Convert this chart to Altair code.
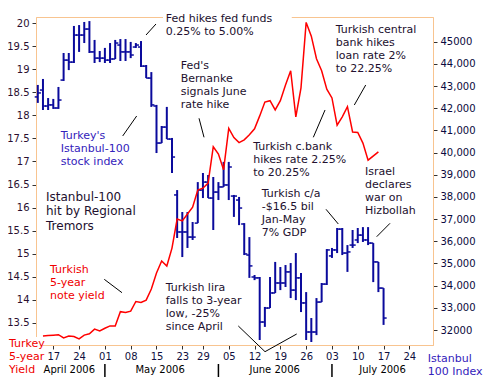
import altair as alt
import pandas as pd

FONT = "DejaVu Sans"
PEACH = "#f8c490"
NAVY = "#0a0a9c"
DARK = "#22102e"

# ---------------- data ----------------
# trading-day index (0 = 17 Apr 2006)
days = list(range(-3, 65))
ise_open = [42510, 42820, 42100, 42150, 42010, 43270, 44170, 44080, 45300, 45300,
            45570, 44540, 44260, 44260, 44170, 44220, 44850, 44540, 44540, 44760,
            44760, 43900, 43360, 42100, 40430, 41150, 40610, 38090, 36420, 36420,
            36190, 36820, 38310, 38670, 37950, 38220, 38450, 38540, 38040, 37860,
            36780, 35380, 34390, 34350, 32360, 32990, 33670, 34120, 34120, 34620,
            33800, 34350, 33220, 31910, 31910, 33260, 34070, 35340, 35610, 36550,
            35470, 35830, 36060, 36280, 36060, 35920, 35070, 33890]
ise_high = [43050, 43320, 42460, 42420, 42960, 44490, 44490, 45710, 45750, 45890,
            45930, 45080, 44580, 44720, 44940, 45080, 45120, 45120, 44990, 44940,
            45030, 43950, 43630, 42150, 41200, 42060, 40660, 38310, 37320, 37320,
            36870, 38670, 39080, 38990, 38900, 38670, 39580, 39580, 38090, 38000,
            36820, 36190, 34480, 34390, 33040, 34390, 35070, 34840, 34930, 35020,
            35470, 34570, 33710, 32540, 33440, 34120, 35650, 35700, 36600, 36600,
            35830, 36510, 36600, 36640, 36640, 35920, 35070, 33890]
ise_low = [42240, 41920, 41920, 41970, 41970, 43230, 43720, 44040, 44540, 44940,
           44490, 44040, 44080, 44040, 44040, 44220, 44130, 44130, 44260, 44720,
           43860, 43360, 42060, 39980, 40430, 40610, 39080, 36150, 35290, 35700,
           36060, 36820, 37950, 37950, 36510, 37860, 38450, 37860, 37100, 36730,
           35380, 34350, 34250, 31550, 32140, 32990, 33670, 33800, 33940, 33440,
           33350, 32810, 31550, 31460, 31770, 33260, 34030, 35250, 35470, 35380,
           34620, 35700, 35920, 35970, 35830, 34160, 33710, 32230]
ise_close = [42690, 42100, 42150, 42010, 42370, 44170, 44080, 45300, 45300, 45570,
             44540, 44260, 44260, 44170, 44220, 44940, 44540, 44540, 44400, 44850,
             43900, 43360, 42150, 40430, 41150, 40610, 39800, 36420, 36420, 36190,
             36190, 38310, 38670, 37950, 38220, 38450, 38540, 39350, 38040, 37500,
             35430, 34890, 34350, 32360, 32990, 33670, 34120, 34120, 34620, 33800,
             34350, 33220, 31910, 31910, 33260, 34070, 35610, 35610, 36550, 35470,
             35520, 35830, 36280, 36060, 35920, 35070, 33890, 32540]

yield_days = list(range(-2, 62)) + [63]
yield_vals = [13.21, 13.22, 13.23, 13.24, 13.17, 13.21, 13.20, 13.15, 13.23, 13.26,
              13.36, 13.32, 13.38, 13.43, 13.43, 13.74, 13.72, 13.75, 13.96, 13.94,
              13.99, 14.23, 14.58, 14.84, 14.73, 15.12, 15.75, 15.71, 15.86, 16.01,
              16.38, 16.42, 16.53, 17.32, 17.16, 16.82, 17.72, 17.52, 17.41, 17.47,
              17.58, 17.71, 17.99, 18.29, 18.32, 18.12, 18.32, 18.66, 18.97, 17.97,
              18.60, 20.02, 19.72, 19.23, 18.97, 18.57, 18.38, 17.79, 17.97, 18.19,
              17.64, 17.63, 17.40, 17.03, 17.21]

tick_days = [0, 5, 10, 15, 20, 25, 29, 34, 39, 44, 49, 54, 59, 64, 69]
tick_labels = ["17", "24", "01", "08", "15", "23", "29", "05", "12", "19", "26",
               "03", "10", "17", "24"]
month_names = ["April 2006", "May 2006", "June 2006", "July 2006"]
month_days = [3.1, 20.7, 42.9, 63.8]
month_breaks = [10, 32, 54]

left_ticks = [13.5, 14, 14.5, 15, 15.5, 16, 16.5, 17, 17.5, 18, 18.5, 19, 19.5, 20]
right_ticks = list(range(32000, 46000, 1000))

ann_lines = [
    ["Fed hikes fed funds", "0.25% to 5.00%"],
    ["Fed's", "Bernanke", "signals June", "rate hike"],
    ["Turkey's", "Istanbul-100", "stock index"],
    ["Istanbul-100", "hit by Regional", "Tremors"],
    ["Turkish", "5-year", "note yield"],
    ["Turkish lira", "falls to 3-year", "low, -25%", "since April"],
    ["Turkish c.bank", "hikes rate 2.25%", "to 20.25%"],
    ["Turkish central", "bank hikes", "loan rate 2%", "to 22.25%"],
    ["Turkish c/a", "-$16.5 bil", "Jan-May", "7% GDP"],
    ["Israel", "declares", "war on", "Hizbollah"],
    ["Turkey", "5-year", "Yield"],
    ["Istanbul", "100 Index"],
]
ann_day = [21.78, 24.69, 1.43, -1.41, -0.64, 21.78, 38.76, 54.73, 40.39, 60.41, -8.59, 72.56]
ann_val = [20.083, 19.073, 17.554, 16.223, 14.655, 14.247, 17.321, 19.855, 16.294, 16.765,
           13.031, 12.712]
ann_color = [DARK, DARK, "#3322bb", DARK, "#f00000", DARK, DARK, DARK, DARK, DARK,
             "#f00000", "#3322bb"]
ann_size = [11, 11, 11, 12, 11, 11, 11, 11, 11, 11, 11, 11]
ann_lead = [13, 13, 13, 14.2, 13, 12.8, 13, 13, 13, 12.8, 13, 12.7]

lead_d1 = [19.90, 28.24, 13.45, 9.88, 35.85, 41.03, 52.66, 60.54, 52.85, 65.25]
lead_v1 = [19.985, 17.938, 17.554, 14.442, 13.429, 12.871, 18.118, 18.661, 15.962, 15.658]
lead_d2 = [17.97, 29.21, 16.16, 13.31, 41.03, 47.17, 50.39, 58.33, 55.23, 62.67]
lead_v2 = [19.746, 17.525, 17.988, 14.152, 12.871, 13.255, 17.525, 18.226, 15.643, 15.367]

# white label boxes (under "Fed hikes" and "Turkey 5-year Yield")
box_d1 = [21.26, -8.78]
box_d2 = [46.21, -2.05]
box_v1 = [20.246, 13.190]
box_v2 = [19.638, 12.256]

# ---------------- layout ----------------
W, H = 397, 328
X_DOM = [-3.35, 73.58]
YL_DOM = [13.016, 20.137]
YR_DOM = [31324, 46114]
px_val = (YL_DOM[1] - YL_DOM[0]) / H

xs = alt.Scale(domain=X_DOM, nice=False, zero=False)


def yl():
    return alt.Scale(domain=YL_DOM, nice=False, zero=False)


def yr():
    return alt.Scale(domain=YR_DOM, nice=False, zero=False)


bars = pd.DataFrame({"d": days, "o": ise_open, "h": ise_high, "l": ise_low, "c": ise_close})
yld = pd.DataFrame({"d": yield_days, "v": yield_vals})

rows = []
for lines, d, v, col, fs, lead in zip(ann_lines, ann_day, ann_val, ann_color, ann_size, ann_lead):
    for k, t in enumerate(lines):
        rows.append({"t": t, "d": d, "v": v - k * lead * px_val, "col": col, "fs": fs})
ann = pd.DataFrame(rows)

leads = pd.DataFrame({"d1": lead_d1, "v1": lead_v1, "d2": lead_d2, "v2": lead_v2})
boxes = pd.DataFrame({"d1": box_d1, "d2": box_d2, "v1": box_v1, "v2": box_v2})

month_v = YL_DOM[0] - 25 * px_val
sep_v1 = YL_DOM[0] - 19 * px_val
sep_v2 = YL_DOM[0] - 32 * px_val
months = pd.DataFrame({"d": month_days, "t": month_names, "v": [month_v] * 4})
seps = pd.DataFrame({"d": month_breaks, "v1": [sep_v1] * 3, "v2": [sep_v2] * 3})

lab_expr = ""
for t, s in zip(tick_days, tick_labels):
    lab_expr += "datum.value == %s ? '%s' : " % (t, s)
lab_expr += "''"

x_axis = alt.Axis(values=tick_days, labelExpr=lab_expr, tickSize=4, tickColor="#333333",
                  labelColor="#101040", labelFontSize=10, labelPadding=2, domainColor=PEACH,
                  grid=False, title=None, labelFlush=False, labelOverlap=False)
left_axis = alt.Axis(values=left_ticks, orient="left", tickSize=4, tickColor="#333333",
                     labelColor="#2a0f30", labelFontSize=10, labelPadding=3, domainColor=PEACH,
                     grid=False, title=None, labelOverlap=False, labelFlush=False,
                     format=".1~f")
right_axis = alt.Axis(values=right_ticks, orient="right", tickSize=4, tickColor="#333333",
                      labelColor="#0a0a40", labelFontSize=10, labelPadding=3, domainColor=PEACH,
                      grid=False, title=None, labelOverlap=False, labelFlush=False,
                      labelExpr="(datum.value == 45000 || datum.value == 32000) ? format(datum.value, 'd') : format(datum.value, ',')")


def X(field):
    return alt.X(field, scale=xs, axis=x_axis)


# ---------------- index (OHLC) ----------------
hl = alt.Chart(bars).mark_rule(color=NAVY, strokeWidth=2).encode(
    x=X("d:Q"),
    y=alt.Y("l:Q", scale=yr(), axis=right_axis),
    y2="h:Q")
op = alt.Chart(bars).transform_calculate(xo="datum.d - 0.6").mark_rule(
    color=NAVY, strokeWidth=1.5).encode(
    x=X("xo:Q"), x2="d:Q",
    y=alt.Y("o:Q", scale=yr(), axis=None))
cl = alt.Chart(bars).transform_calculate(xc="datum.d + 0.6").mark_rule(
    color=NAVY, strokeWidth=1.5).encode(
    x=X("d:Q"), x2="xc:Q",
    y=alt.Y("c:Q", scale=yr(), axis=None))

# ---------------- yield + annotations ----------------
box = alt.Chart(boxes).mark_rect(fill="white").encode(
    x=X("d1:Q"), x2="d2:Q",
    y=alt.Y("v1:Q", scale=yl(), axis=None), y2="v2:Q")
line = alt.Chart(yld).mark_line(color="#ff0000", strokeWidth=1.5).encode(
    x=X("d:Q"),
    y=alt.Y("v:Q", scale=yl(), axis=left_axis))
lead = alt.Chart(leads).mark_rule(color="black", strokeWidth=1).encode(
    x=X("d1:Q"), x2="d2:Q",
    y=alt.Y("v1:Q", scale=yl(), axis=None), y2="v2:Q")
txt = alt.Chart(ann).mark_text(font=FONT, align="left", baseline="middle").encode(
    x=X("d:Q"),
    y=alt.Y("v:Q", scale=yl(), axis=None),
    text="t:N",
    color=alt.Color("col:N", scale=None),
    size=alt.Size("fs:Q", scale=None))
mon = alt.Chart(months).mark_text(font=FONT, fontSize=10, color="#000000",
                                  baseline="middle").encode(
    x=X("d:Q"),
    y=alt.Y("v:Q", scale=yl(), axis=None),
    text="t:N")
sep = alt.Chart(seps).mark_rule(color="#000000", strokeWidth=1.5).encode(
    x=X("d:Q"),
    y=alt.Y("v1:Q", scale=yl(), axis=None), y2="v2:Q")

chart = alt.layer(hl, op, cl, box, line, lead, txt, mon, sep).resolve_scale(
    y="independent").properties(
    width=W, height=H,
    autosize=alt.AutoSizeParams(type="none"),
    padding={"left": 28, "top": 9, "right": 52, "bottom": 34},
).configure_view(stroke=PEACH, strokeWidth=1).configure_axis(
    labelFont=FONT, grid=False, domainWidth=1)

chart.save("out.html", embed_options={"renderer": "svg", "actions": False})
